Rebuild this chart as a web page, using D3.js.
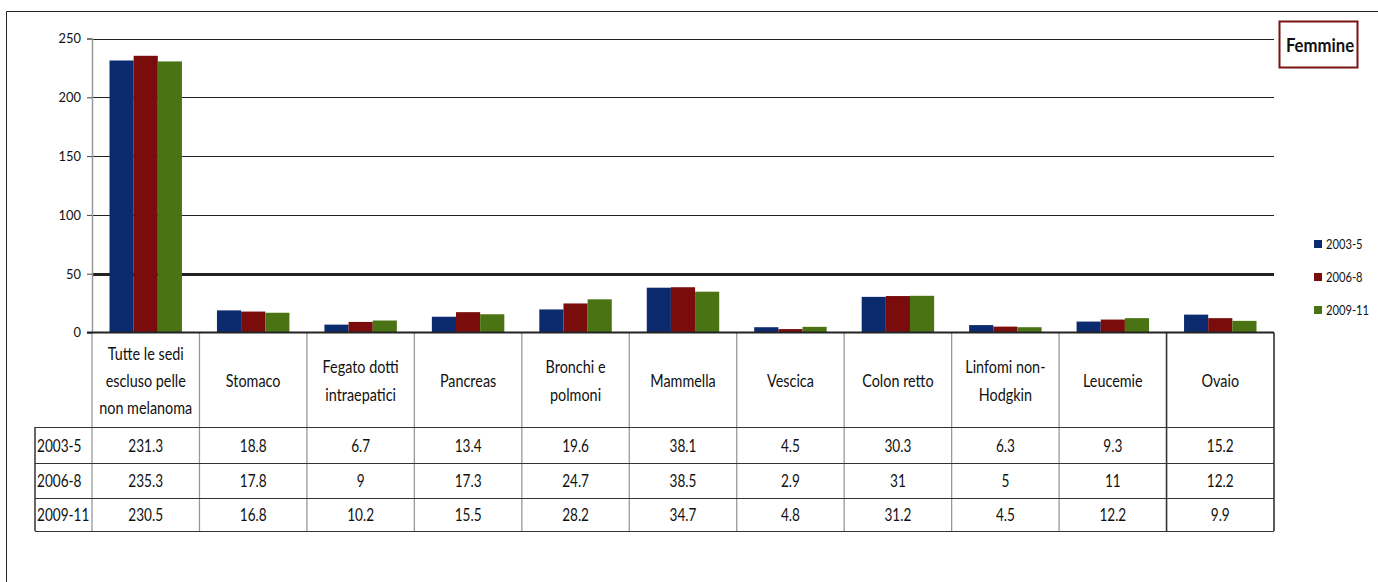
<!DOCTYPE html>
<html>
<head>
<meta charset="utf-8">
<script src="https://cdn.jsdelivr.net/npm/d3@7"></script>
<style>
  html, body { margin: 0; padding: 0; background: #fff; }
  svg { display: block; }
  text { font-family: Lato, "Liberation Sans", sans-serif; fill: #111; }
</style>
</head>
<body>
<svg id="chart" width="1378" height="582"></svg>
<script>
// Tumour incidence rates, women, by site and period
const categories = [
  ["Tutte le sedi", "escluso pelle", "non melanoma"],
  ["Stomaco"],
  ["Fegato dotti", "intraepatici"],
  ["Pancreas"],
  ["Bronchi e", "polmoni"],
  ["Mammella"],
  ["Vescica"],
  ["Colon retto"],
  ["Linfomi non-", "Hodgkin"],
  ["Leucemie"],
  ["Ovaio"]
];
const periods = ["2003-5", "2006-8", "2009-11"];
const values2003 = [231.3, 18.8, 6.7, 13.4, 19.6, 38.1, 4.5, 30.3, 6.3, 9.3, 15.2];
const values2006 = [235.3, 17.8, 9, 17.3, 24.7, 38.5, 2.9, 31, 5, 11, 12.2];
const values2009 = [230.5, 16.8, 10.2, 15.5, 28.2, 34.7, 4.8, 31.2, 4.5, 12.2, 9.9];
const yTicks = [0, 50, 100, 150, 200, 250];
const panelTitle = "Femmine";

const series = [values2003, values2006, values2009];
const colors = ["#0c2a6e", "#7a0c0c", "#4a7414"];

const svg = d3.select("#chart");

// narrow text: same glyphs, squeezed horizontally
function label(parent, px, py, txt, size, anchor, sx, weight) {
  return parent.append("text")
    .attr("transform", `translate(${px},${py}) scale(${sx},1)`)
    .attr("dy", "0.35em")
    .attr("text-anchor", anchor)
    .attr("font-size", size)
    .attr("font-weight", weight || "normal")
    .text(txt);
}

// outer frame (top and left edges)
svg.append("line").attr("x1", 6.5).attr("x2", 1378).attr("y1", 11.5).attr("y2", 11.5)
  .attr("stroke", "#222").attr("stroke-width", 1);
svg.append("line").attr("x1", 6.5).attr("x2", 6.5).attr("y1", 11.5).attr("y2", 582)
  .attr("stroke", "#222").attr("stroke-width", 1);

const plotLeft = 92, plotRight = 1274, plotTop = 38.5, base = 332.5;
const x = d3.scaleBand().domain(d3.range(categories.length)).range([plotLeft, plotRight]).padding(0);
const bw = x.bandwidth();
const xs = d3.scaleBand().domain(d3.range(periods.length)).range([17.5, bw - 17.5]).padding(0);
const y = d3.scaleLinear().domain([0, 250]).range([base, plotTop]);

// gridlines
svg.append("g").selectAll("line").data(yTicks.filter(t => t > 0)).join("line")
  .attr("x1", plotLeft).attr("x2", plotRight)
  .attr("y1", d => Math.round(y(d)) + 0.5).attr("y2", d => Math.round(y(d)) + 0.5)
  .attr("stroke", "#222")
  .attr("stroke-width", d => d === 50 ? 3 : 1);

// bars
series.forEach((vals, si) => {
  svg.append("g").selectAll("rect").data(vals).join("rect")
    .attr("x", (d, i) => x(i) + xs(si))
    .attr("width", xs.bandwidth())
    .attr("y", d => y(d))
    .attr("height", d => base - y(d))
    .attr("fill", colors[si]);
});

// y axis
const yAxis = d3.axisLeft(y).tickValues(yTicks).tickSize(5).tickFormat("");
const ag = svg.append("g").attr("transform", `translate(${plotLeft},0)`).call(yAxis);
ag.select(".domain").attr("stroke", "#999").attr("stroke-width", 1.5);
ag.selectAll(".tick line").attr("stroke", "#444");
yTicks.forEach(t => label(svg, 81, y(t), String(t), 14, "end", 0.92));

// data table under the axis
const rowTop = 427, rowH = [36, 35, 33];
const rowY = [rowTop, rowTop + rowH[0], rowTop + rowH[0] + rowH[1]];
const tableBottom = rowY[2] + rowH[2];

// vertical cell dividers
const tbl = svg.append("g");
d3.range(categories.length + 1).forEach(i => {
  const xv = i === categories.length ? plotRight : x(i);
  const dark = i === categories.length || i === categories.length - 1;
  tbl.append("line").attr("x1", xv).attr("x2", xv).attr("y1", base).attr("y2", tableBottom)
    .attr("stroke", dark ? "#333" : "#999").attr("stroke-width", dark ? 1.6 : 1.3);
});
// row header column
tbl.append("line").attr("x1", 35).attr("x2", 35).attr("y1", rowTop).attr("y2", tableBottom)
  .attr("stroke", "#333").attr("stroke-width", 1.5);
// horizontal rules
[rowTop, rowY[1], rowY[2], tableBottom].forEach(yy => {
  tbl.append("line").attr("x1", 35).attr("x2", plotRight).attr("y1", yy + 0.5).attr("y2", yy + 0.5)
    .attr("stroke", "#333").attr("stroke-width", 1.2);
});

// category axis baseline
svg.append("line").attr("x1", plotLeft - 5).attr("x2", plotRight).attr("y1", base).attr("y2", base)
  .attr("stroke", "#222").attr("stroke-width", 2);

// header labels
categories.forEach((lines, i) => {
  const cx = x(i) + bw / 2;
  const lh = lines.length === 3 ? 27.3 : 28;
  const mid = 380.5;
  lines.forEach((ln, k) => {
    label(svg, cx, mid + (k - (lines.length - 1) / 2) * lh, ln, 18, "middle", 0.8);
  });
});

// row labels and values
periods.forEach((p, r) => {
  const cy = rowY[r] + rowH[r] / 2 + 1;
  label(svg, 37, cy, p, 17, "start", 0.8);
  series[r].forEach((v, i) => {
    label(svg, x(i) + bw / 2, cy, String(v), 17, "middle", 0.8);
  });
});

// legend
const lg = svg.append("g");
const legY = [244, 277, 310];
periods.forEach((p, i) => {
  lg.append("rect").attr("x", 1314).attr("y", legY[i] - 4).attr("width", 8).attr("height", 8)
    .attr("fill", colors[i]);
  label(lg, 1326, legY[i], p, 14, "start", 0.8);
});

// panel title box
svg.append("rect").attr("x", 1279.5).attr("y", 21.5).attr("width", 78).attr("height", 46)
  .attr("fill", "#fff").attr("stroke", "#7a1414").attr("stroke-width", 2);
label(svg, 1320, 45, panelTitle, 19, "middle", 0.88, "bold");
</script>
</body>
</html>
